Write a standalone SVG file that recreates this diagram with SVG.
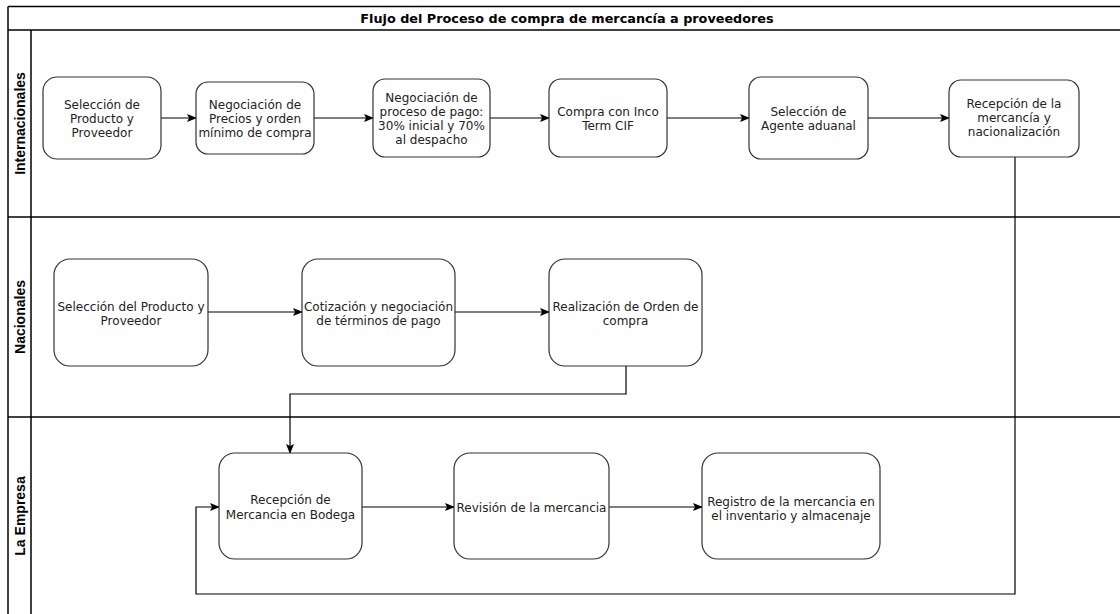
<svg xmlns="http://www.w3.org/2000/svg" width="1120" height="614" viewBox="0 0 1120 614">
<style>
.frame{fill:none;stroke:#000;stroke-width:1.5}
.node rect{fill:#fff;stroke:#333;stroke-width:1.2}
.node text{font-family:"DejaVu Sans",Verdana,sans-serif;font-size:12px;fill:#222;text-anchor:middle}
.lane{font-family:"Liberation Sans",Arial,sans-serif;font-size:14px;font-weight:bold;fill:#000;text-anchor:middle}
.title{font-family:"DejaVu Sans",Verdana,sans-serif;font-size:12.8px;font-weight:bold;fill:#000;text-anchor:middle}
.conn path{fill:none;stroke:#000;stroke-width:1.2}
</style>
<defs>
<marker id="arr" viewBox="0 0 10 10" refX="9" refY="5" markerWidth="10" markerHeight="10" markerUnits="userSpaceOnUse" orient="auto">
<path d="M0,1 L10,5 L0,9 L2,5 Z" fill="#000"/>
</marker>
</defs>
<rect x="0" y="0" width="1120" height="614" fill="#fff"/>
<g id="pool">
<line class="frame" x1="8" y1="6.5" x2="1120" y2="6.5"/>
<line class="frame" x1="8" y1="6.5" x2="8" y2="614"/>
<line class="frame" x1="8" y1="30" x2="1120" y2="30"/>
<line class="frame" x1="31" y1="30" x2="31" y2="614"/>
<line class="frame" x1="8" y1="217" x2="1120" y2="217"/>
<line class="frame" x1="8" y1="417" x2="1120" y2="417"/>
<text class="title" x="567" y="22.5">Flujo del Proceso de compra de mercancía a proveedores</text>
</g>
<g id="lane-internacionales"><text class="lane" transform="translate(25,123.5) rotate(-90)">Internacionales</text></g>
<g id="lane-nacionales"><text class="lane" transform="translate(25,317) rotate(-90)">Nacionales</text></g>
<g id="lane-empresa"><text class="lane" transform="translate(25,516) rotate(-90)">La Empresa</text></g>

<g class="conn" id="connectors">
<path d="M161,118 H196" marker-end="url(#arr)"/>
<path d="M314,118 H373" marker-end="url(#arr)"/>
<path d="M490,118 H549" marker-end="url(#arr)"/>
<path d="M667,118 H749" marker-end="url(#arr)"/>
<path d="M868,118 H949" marker-end="url(#arr)"/>
<path d="M208,312 H302" marker-end="url(#arr)"/>
<path d="M455,312 H549" marker-end="url(#arr)"/>
<path d="M626,366 V394 H290 V453" marker-end="url(#arr)"/>
<path d="M362,507 H454" marker-end="url(#arr)"/>
<path d="M609,507 H702" marker-end="url(#arr)"/>
<path d="M1015,157 V594 H196 V507 H219" marker-end="url(#arr)"/>
</g>

<g class="node" id="n1"><rect x="43" y="77" width="118" height="82" rx="14"/>
<text x="102" y="109">Selección de</text><text x="102" y="123">Producto y</text><text x="102" y="137">Proveedor</text></g>
<g class="node" id="n2"><rect x="196" y="82" width="118" height="72" rx="12"/>
<text x="255" y="109">Negociación de</text><text x="255" y="123">Precios y orden</text><text x="255" y="137">mínimo de compra</text></g>
<g class="node" id="n3"><rect x="373" y="79" width="117" height="78" rx="12"/>
<text x="431.5" y="102">Negociación de</text><text x="431.5" y="116">proceso de pago:</text><text x="431.5" y="130">30% inicial y 70%</text><text x="431.5" y="144">al despacho</text></g>
<g class="node" id="n4"><rect x="549" y="79" width="118" height="78" rx="12"/>
<text x="608" y="116">Compra con Inco</text><text x="608" y="130">Term CIF</text></g>
<g class="node" id="n5"><rect x="749" y="77" width="119" height="82" rx="12"/>
<text x="808.5" y="116">Selección de</text><text x="808.5" y="130">Agente aduanal</text></g>
<g class="node" id="n6"><rect x="949" y="80" width="130" height="77" rx="12"/>
<text x="1014" y="108">Recepción de la</text><text x="1014" y="122">mercancía y</text><text x="1014" y="136">nacionalización</text></g>

<g class="node" id="n7"><rect x="54" y="259" width="154" height="107" rx="16"/>
<text x="131" y="311">Selección del Producto y</text><text x="131" y="325">Proveedor</text></g>
<g class="node" id="n8"><rect x="302" y="259" width="153" height="107" rx="16"/>
<text x="378.5" y="311">Cotización y negociación</text><text x="378.5" y="325">de términos de pago</text></g>
<g class="node" id="n9"><rect x="549" y="259" width="153" height="107" rx="16"/>
<text x="625.5" y="311">Realización de Orden de</text><text x="625.5" y="325">compra</text></g>

<g class="node" id="n10"><rect x="219" y="453" width="143" height="106" rx="16"/>
<text x="290.5" y="504">Recepción de</text><text x="290.5" y="519">Mercancia en Bodega</text></g>
<g class="node" id="n11"><rect x="454" y="453" width="155" height="106" rx="16"/>
<text x="531.5" y="512">Revisión de la mercancia</text></g>
<g class="node" id="n12"><rect x="702" y="453" width="178" height="106" rx="16"/>
<text x="791" y="506">Registro de la mercancia en</text><text x="791" y="520">el inventario y almacenaje</text></g>
</svg>
